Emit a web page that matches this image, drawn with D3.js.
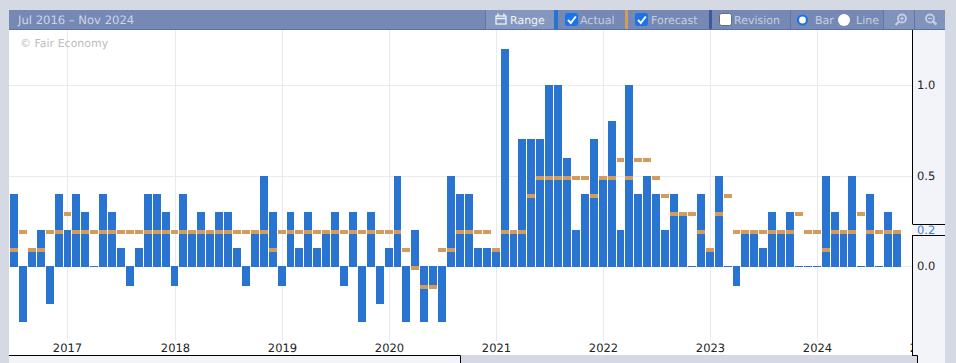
<!DOCTYPE html>
<html>
<head>
<meta charset="utf-8">
<title>Jul 2016 - Nov 2024</title>
<script src="https://cdnjs.cloudflare.com/ajax/libs/d3/7.8.5/d3.min.js"></script>
<style>
  html, body { margin: 0; padding: 0; background: #d5d9e3; overflow: hidden; }
  svg { display: block; font-family: "DejaVu Sans", sans-serif; font-size: 11px; text-rendering: geometricPrecision; }
</style>
</head>
<body>
<div id="svganchor"></div>
<script>
// monthly values, Jul 2016 to Oct 2024
const actual = [
  0.4, -0.3, 0.1, 0.2, -0.2, 0.4,
  0.2, 0.4, 0.3, 0.0, 0.4, 0.3, 0.1, -0.1, 0.1, 0.4, 0.4, 0.3,
  -0.1, 0.4, 0.2, 0.3, 0.2, 0.3, 0.3, 0.1, -0.1, 0.2, 0.5, 0.3,
  -0.1, 0.3, 0.1, 0.3, 0.1, 0.2, 0.3, -0.1, 0.3, -0.3, 0.3, -0.2,
  0.1, 0.5, -0.3, 0.2, -0.3, -0.1, -0.3, 0.5, 0.4, 0.4, 0.1, 0.1,
  0.1, 1.2, 0.2, 0.7, 0.7, 0.7, 1.0, 1.0, 0.6, 0.2, 0.4, 0.7,
  0.5, 0.8, 0.2, 1.0, 0.4, 0.5, 0.4, 0.2, 0.4, 0.3, 0.0, 0.4,
  0.1, 0.5, 0.0, -0.1, 0.2, 0.2, 0.1, 0.3, 0.2, 0.3, 0.0, 0.0,
  0.0, 0.5, 0.3, 0.2, 0.5, 0.0, 0.4, 0.0, 0.3, 0.2
];
const forecast = [
  0.1, 0.2, 0.1, 0.1, 0.2, 0.2,
  0.3, 0.2, 0.2, 0.2, 0.2, 0.2, 0.2, 0.2, 0.2, 0.2, 0.2, 0.2,
  0.2, 0.2, 0.2, 0.2, 0.2, 0.2, 0.2, 0.2, 0.2, 0.2, 0.2, 0.1,
  0.2, 0.2, 0.2, 0.2, 0.2, 0.2, 0.2, 0.2, 0.2, 0.2, 0.2, 0.2,
  0.2, 0.2, 0.1, 0.0, -0.1, -0.1, 0.1, 0.1, 0.2, 0.2, 0.2, 0.2,
  0.1, 0.2, 0.2, 0.2, 0.4, 0.5, 0.5, 0.5, 0.5, 0.5, 0.5, 0.4,
  0.5, 0.5, 0.6, 0.5, 0.6, 0.6, 0.5, 0.4, 0.3, 0.3, 0.3, 0.2,
  0.1, 0.3, 0.4, 0.2, 0.2, 0.2, 0.2, 0.2, 0.2, 0.2, 0.3, 0.2,
  0.2, 0.1, 0.2, 0.2, 0.2, 0.3, 0.2, 0.2, 0.2, 0.2
];
const yearTicks = [2017, 2018, 2019, 2020, 2021, 2022, 2023, 2024, 2025];
const valueTicks = [0, 0.5, 1];
const rangeLabel = "Jul 2016 \u2013 Nov 2024";
const sourceLabel = "\u00a9 Fair Economy";

const width = 956;
const height = 363;
const panel = { left: 9, right: 945, top: 10, header: 30, plotRight: 912, bottom: 355 };

const blue = "#2874d0";
const orange = "#d49b5f";
const gridColor = "#e8e9f1";
const headerColor = "#7689b4";
const lightPanel = "#f3f4f9";

const svg = d3.select("#svganchor")
  .append("svg")
  .attr("width", width)
  .attr("height", height);

// scales
const x = d3.scaleBand()
  .domain(d3.range(actual.length))
  .range([10, 10 + actual.length * 8.92]);
const xYear = d3.scaleLinear()
  .domain([2017, 2025])
  .rangeRound([67.49, 923.62]);
const y = d3.scaleLinear()
  .domain([0, 1])
  .rangeRound([266.4, 85.1]);

// background blocks
svg.append("rect")
  .attr("x", panel.left).attr("y", panel.header)
  .attr("width", panel.right - panel.left).attr("height", height - panel.header)
  .attr("fill", lightPanel);
svg.append("rect")
  .attr("x", 461).attr("y", panel.bottom)
  .attr("width", panel.plotRight - 461 + 5).attr("height", height - panel.bottom)
  .attr("fill", "#d5d9e3");
svg.append("rect")
  .attr("x", panel.left).attr("y", panel.header)
  .attr("width", panel.plotRight - panel.left).attr("height", panel.bottom - panel.header)
  .attr("fill", "#fff");

svg.append("defs").append("clipPath").attr("id", "plotClip")
  .append("rect")
  .attr("x", panel.left).attr("y", panel.header)
  .attr("width", panel.plotRight - panel.left).attr("height", panel.bottom - panel.header);

// x axis and vertical grid
const xAxis = svg.append("g")
  .attr("clip-path", "url(#plotClip)")
  .append("g")
  .attr("transform", "translate(0,341)")
  .call(d3.axisBottom(xYear)
    .tickValues(yearTicks)
    .tickFormat(d3.format("d"))
    .tickSize(-311)
    .tickPadding(3));
xAxis.select(".domain").remove();
xAxis.selectAll("line").attr("stroke", gridColor);
xAxis.selectAll("text").attr("fill", "#222").style("font-size", "11.5px").style("font-family", "DejaVu Sans");
xAxis.selectAll(".tick").filter(d => d === 2025).select("line").remove();

// y axis and horizontal grid
const yAxis = svg.append("g")
  .attr("transform", "translate(" + panel.plotRight + ",0)")
  .call(d3.axisRight(y)
    .tickValues(valueTicks)
    .tickFormat(d3.format(".1f"))
    .tickSize(-(panel.plotRight - panel.left))
    .tickPadding(5));
yAxis.select(".domain").remove();
yAxis.selectAll("line").attr("stroke", gridColor);
yAxis.selectAll("text").attr("fill", "#222").style("font-size", "11.5px").style("font-family", "DejaVu Sans");

svg.append("text")
  .attr("x", 20).attr("y", 47)
  .attr("fill", "#bdbdbd")
  .text(sourceLabel);

// bars and forecast dashes share the same pixel snapped columns
const left = i => Math.round(x(i));
const barW = i => Math.round(x(i) + x.step()) - left(i) - 1;

svg.append("g").selectAll("rect")
  .data(actual)
  .join("rect")
  .attr("x", (d, i) => left(i))
  .attr("y", d => Math.min(y(d), y(0)))
  .attr("width", (d, i) => barW(i))
  .attr("height", d => Math.abs(y(d) - y(0)) + 1)
  .attr("fill", blue);

svg.append("g").selectAll("rect")
  .data(forecast)
  .join("rect")
  .attr("x", (d, i) => left(i))
  .attr("y", d => y(d))
  .attr("width", (d, i) => barW(i))
  .attr("height", 4)
  .attr("fill", orange);

// frame lines and the last value flag
const lastY = y(actual[actual.length - 1]);
const frame = [
  [panel.left, 355.5, 460.5, 355.5],
  [460.5, 355.5, 460.5, height],
  [912.5, panel.header, 912.5, lastY - 6],
  [912.5, lastY + 5, 912.5, 355.5],
  [912.5, lastY - 5.5, panel.right, lastY - 5.5],
  [912.5, lastY + 5.5, panel.right, lastY + 5.5],
  [912, 355.5, 917.5, 355.5],
  [917.5, 355.5, 917.5, height]
];
svg.append("g").selectAll("line")
  .data(frame)
  .join("line")
  .attr("x1", d => d[0]).attr("y1", d => d[1])
  .attr("x2", d => d[2]).attr("y2", d => d[3])
  .attr("stroke", "#000");
svg.append("text")
  .attr("x", 917).attr("y", lastY)
  .attr("dy", "0.32em")
  .attr("fill", "#3a7fdc")
  .style("font-size", "11.5px")
  .text(d3.format(".1f")(actual[actual.length - 1]));

/*
------------------------------
METHOD: draw the toolbar
------------------------------
*/
const bar = svg.append("g");
bar.append("rect").attr("x", panel.left).attr("y", panel.top)
  .attr("width", panel.right - panel.left).attr("height", 20).attr("fill", headerColor);
bar.append("rect").attr("x", panel.left).attr("y", 29)
  .attr("width", panel.right - panel.left).attr("height", 1).attr("fill", "#5a70a6");
bar.append("rect").attr("x", 486).attr("y", panel.top).attr("width", 68).attr("height", 19).attr("fill", "#8497bf");
bar.append("rect").attr("x", 884).attr("y", panel.top).attr("width", 61).attr("height", 19).attr("fill", "#8093bb");

[[554, 4, blue], [625, 3, orange], [709, 3, "#3a5a98"],
 [485, 1, "#5f76a8"], [790, 1, "#5f76a8"], [883, 1, "#5f76a8"], [914, 1, "#5f76a8"]].forEach(function (s) {
  bar.append("rect").attr("x", s[0]).attr("y", panel.top).attr("width", s[1]).attr("height", 19).attr("fill", s[2]);
});

const barLabels = [
  [18, rangeLabel, "#ccd5e8", "11.6px"], [510, "Range", "#eef1f7", "11px"], [580, "Actual", "#c4cee3", "11px"],
  [651, "Forecast", "#c4cee3", "11px"], [734, "Revision", "#c4cee3", "11px"], [815, "Bar", "#c4cee3", "11px"], [856, "Line", "#c4cee3", "11px"]
];
bar.selectAll("text.lbl")
  .data(barLabels)
  .join("text")
  .attr("class", "lbl")
  .attr("x", d => d[0]).attr("y", 24)
  .attr("fill", d => d[2])
  .style("font-size", d => d[3])
  .text(d => d[1]);

// check boxes
[[565, true], [635, true], [719, false]].forEach(function (c) {
  bar.append("rect").attr("x", c[0] + 0.5).attr("y", 13.5).attr("width", 12).attr("height", 12).attr("rx", 2)
    .attr("fill", c[1] ? "#1a73e8" : "#fff")
    .attr("stroke", c[1] ? "#1a73e8" : "#6b6b6b");
  if (c[1]) {
    bar.append("path")
      .attr("d", "M" + (c[0] + 3) + " 20l2.8 3l5 -6.5")
      .attr("fill", "none").attr("stroke", "#fff").attr("stroke-width", 2);
  }
});

// radio buttons
bar.append("circle").attr("cx", 802.5).attr("cy", 20).attr("r", 4.5)
  .attr("fill", "#fff").attr("stroke", "#1a73e8").attr("stroke-width", 2.2);
bar.append("circle").attr("cx", 844).attr("cy", 20).attr("r", 6).attr("fill", "#fff");

// calendar icon
bar.append("rect").attr("x", 496).attr("y", 16).attr("width", 10).attr("height", 8)
  .attr("fill", "none").attr("stroke", "#eef1f7").attr("stroke-width", 1.3);
bar.append("path").attr("d", "M496 18.5h10M498 13.5v3M504 13.5v3")
  .attr("stroke", "#eef1f7").attr("stroke-width", 1.5);

// zoom icons
[[902, true], [930, false]].forEach(function (z) {
  bar.append("circle").attr("cx", z[0]).attr("cy", 18.5).attr("r", 4)
    .attr("fill", "none").attr("stroke", "#c4cee3").attr("stroke-width", 1.8);
  bar.append("path")
    .attr("d", "M" + (z[0] - 2) + " 18.5h4" + (z[1] ? "M" + z[0] + " 16.5v4" : ""))
    .attr("stroke", "#c4cee3").attr("stroke-width", 1.2);
  bar.append("path")
    .attr("d", z[1]
      ? "M" + (z[0] - 3) + " 21.5l-3.5 3.5"
      : "M" + (z[0] + 3) + " 21.5l3.5 3")
    .attr("stroke", "#c4cee3").attr("stroke-width", 2.4);
});
</script>
</body>
</html>
